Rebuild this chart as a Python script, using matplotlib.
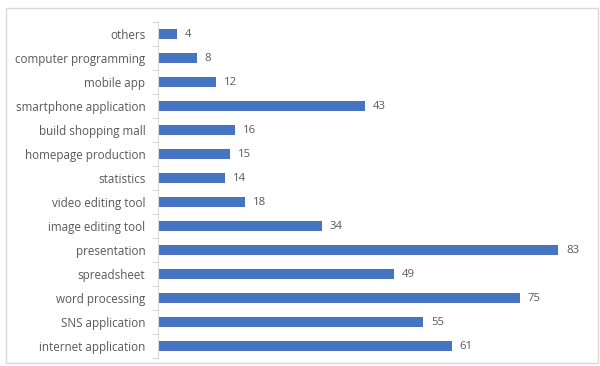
import matplotlib
matplotlib.use("Agg")
import matplotlib.pyplot as plt
import numpy as np
from matplotlib.patches import Rectangle

categories = [
    "others",
    "computer programming",
    "mobile app",
    "smartphone application",
    "build shopping mall",
    "homepage production",
    "statistics",
    "video editing tool",
    "image editing tool",
    "presentation",
    "spreadsheet",
    "word processing",
    "SNS application",
    "internet application",
]
values = [4, 8, 12, 43, 16, 15, 14, 18, 34, 83, 49, 75, 55, 61]

plt.rcParams["font.family"] = ["Open Sans", "DejaVu Sans"]
text_color = "#595959"
bar_color = "#4674C0"

fig = plt.figure(figsize=(6, 3.66), dpi=100)
fig.patches.append(
    Rectangle((6 / 600, 3 / 366), 592 / 600, 355 / 366, transform=fig.transFigure,
              fill=False, edgecolor="#d9d9d9", linewidth=1)
)
ax = fig.add_axes([158 / 600, 1 - 358 / 366, 432 / 600, 336 / 366])

y = np.arange(len(categories))
ax.barh(y, values, height=0.38, color=bar_color)
for yi, v in zip(y, values):
    ax.text(v + 1.6, yi, str(v), va="center", ha="left", fontsize=8.2, color=text_color)

ax.set_ylim(len(categories) - 0.5, -0.5)
ax.set_xlim(0, 89.6)
ax.set_yticks(y)
ax.set_yticklabels(categories, fontsize=8.4, color=text_color)
ax.tick_params(axis="y", which="major", length=0, pad=9)
ax.set_yticks(np.arange(-0.5, len(categories), 1), minor=True)
ax.tick_params(axis="y", which="minor", length=4, color="#d9d9d9", width=0.8)
ax.set_xticks([])
for s in ["top", "right", "bottom"]:
    ax.spines[s].set_visible(False)
ax.spines["left"].set_color("#d9d9d9")
ax.spines["left"].set_linewidth(0.8)

fig.savefig("out.png", dpi=100)
